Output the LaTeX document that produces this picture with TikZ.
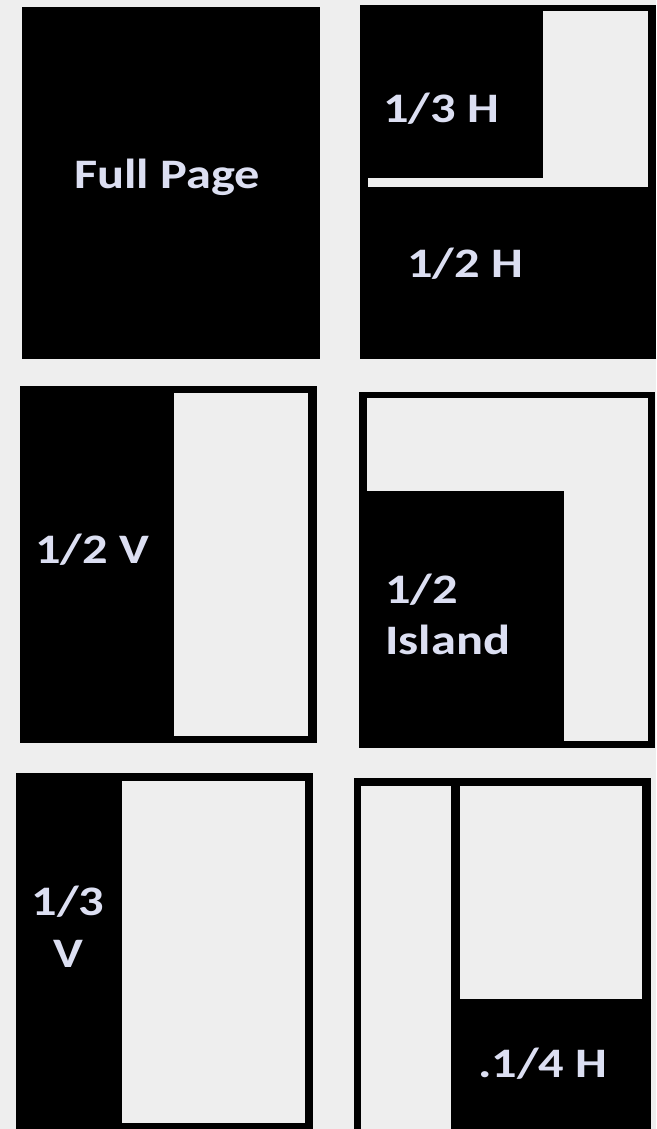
\documentclass[tikz,border=0pt]{standalone}
\usepackage{fontspec}
\setmainfont{Carlito}
\definecolor{PageGray}{HTML}{EEEEEE}
\definecolor{LabelLilac}{HTML}{DCDFF2}

\begin{document}
\begin{tikzpicture}[x=1pt,y=-1pt,
  ink/.style={fill=black},
  blank/.style={fill=PageGray},
  lbl/.style={text=LabelLilac,font=\bfseries\fontsize{42}{50}\selectfont,xscale=1.2,inner sep=0pt}]
\fill[PageGray] (0,0) rectangle (656,1129);
\useasboundingbox (0,0) rectangle (656,1129);
% full page
\fill[ink] (22,7) rectangle (320,359);
% 1/3 H over 1/2 H
\fill[ink] (360,5) rectangle (656,359);
\fill[blank] (543,11) rectangle (648,187);
\fill[blank] (368,178) rectangle (648,187);
% 1/2 V
\fill[ink] (20,386) rectangle (317,743);
\fill[blank] (174,393) rectangle (308,736);
% 1/2 island
\fill[ink] (359,392) rectangle (655,748);
\fill[blank] (367,398) rectangle (648,741);
\fill[ink] (359,491) rectangle (564,748);
% 1/3 V
\fill[ink] (16,773) rectangle (313,1130);
\fill[blank] (122,781) rectangle (305,1123);
% 1/4 H
\fill[ink] (354,778) rectangle (651,1130);
\fill[blank] (361,786) rectangle (451,1130);
\fill[blank] (460,786) rectangle (642,999);
\node[lbl,anchor=base] (full) at (167,188) {Full Page};
\node[lbl,anchor=base] (thirdH) at (441,122) {1/3 H};
\node[lbl,anchor=base] (halfH) at (465,277) {1/2 H};
\node[lbl,anchor=base] (halfV) at (92,563) {1/2 V};
\node[lbl,anchor=base west] (islA) at (385,603) {1/2};
\node[lbl,anchor=base west] (islB) at (385,654) {Island};
\node[lbl,anchor=base] (thirdVa) at (68,915) {1/3};
\node[lbl,anchor=base] (thirdVb) at (68,967) {V};
\node[lbl,anchor=base] (quarterH) at (543,1077) {.1/4 H};
\end{tikzpicture}
\end{document}
